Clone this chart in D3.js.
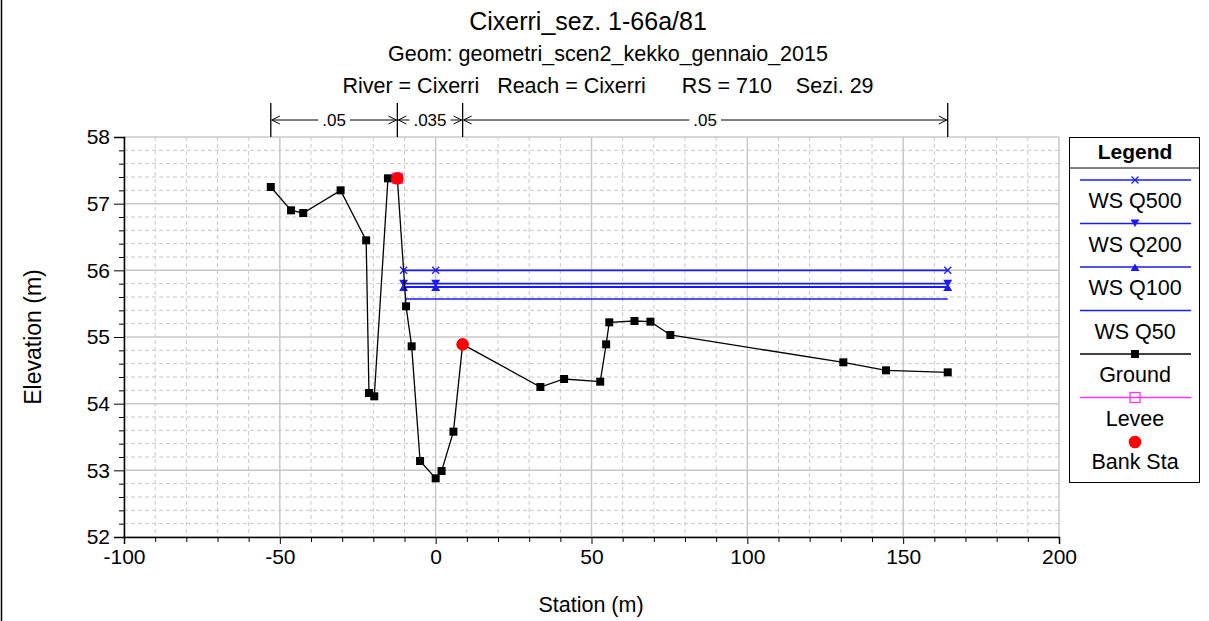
<!DOCTYPE html>
<html><head><meta charset="utf-8">
<script src="https://cdn.jsdelivr.net/npm/d3@7"></script>
<style>body{margin:0;background:#fff;} svg{display:block;font-family:"Liberation Sans",Arial,sans-serif;}</style>
</head><body>
<script>
const titleLines = ["Cixerri_sez. 1-66a/81","Geom: geometri_scen2_kekko_gennaio_2015","River = Cixerri   Reach = Cixerri      RS = 710    Sezi. 29"];
const groundSta = [-52.9,-46.4,-42.5,-30.5,-22.3,-21.4,-19.7,-15.3,-12.3,-9.5,-7.7,-5.0,0.0,1.9,5.7,8.65,33.6,41.2,52.8,54.7,55.7,63.8,68.9,75.3,130.8,144.5,164.3];
const groundElev = [57.25,56.90,56.86,57.20,56.45,54.16,54.11,57.38,57.38,55.46,54.86,53.14,52.88,52.99,53.58,54.89,54.25,54.37,54.33,54.89,55.22,55.24,55.23,55.03,54.62,54.50,54.47];
const bankSta = [-12.3, 8.65];
const bankElev = [57.38, 54.89];
const leveeSta = [-12.3];
const leveeElev = [57.38];
const wsNames = ["WS Q500","WS Q200","WS Q100","WS Q50"];
const wsElev = [56.00, 55.80, 55.75, 55.57];
const wsStart = [-10.3, -10.3, -10.3, -9.5];
const wsEnd = [164.3, 164.3, 164.3, 164.3];
const wsMarkers = ["x","tri-down","tri-up","none"];
const wsMarkerSta = [-10.3, 0, 164.3];
const manningBreaks = [-52.9, -12.3, 8.65, 164.3];
const manningN = [".05", ".035", ".05"];
const xTicks = [-100,-50,0,50,100,150,200];
const yTicks = [52,53,54,55,56,57,58];
const legendNames = ["WS Q500","WS Q200","WS Q100","WS Q50","Ground","Levee","Bank Sta"];

const W=1209,H=621;
const svg=d3.select("body").append("svg").attr("width",W).attr("height",H);
const x=d3.scaleLinear().domain([-100,200]).range([124,1059]);
const y=d3.scaleLinear().domain([52,58]).range([537,137]);
const gridC="#c8c8c8";

// left frame line
svg.append("line").attr("x1",1.5).attr("x2",1.5).attr("y1",0).attr("y2",H).attr("stroke","#000").attr("stroke-width",1.5);

// titles
const tsz=[25,21.5,21.5], ty=[30,61,93], tx=[588,608,608];
titleLines.forEach((t,i)=>svg.append("text").attr("x",tx[i]).attr("y",ty[i]).attr("text-anchor","middle").attr("font-size",tsz[i]).attr("xml:space","preserve").style("white-space","pre").text(t));

// grid
const g=svg.append("g");
d3.range(-90,200,10).forEach(v=>{ if(v%50!==0) g.append("line").attr("x1",x(v)).attr("x2",x(v)).attr("y1",137).attr("y2",537).attr("stroke",gridC).attr("stroke-dasharray","4,3"); });
d3.range(52.2,58,0.2).forEach(v=>{ const r=Math.round(v*10)/10; if(Math.abs(r-Math.round(r))>0.01) g.append("line").attr("x1",124).attr("x2",1059).attr("y1",y(r)).attr("y2",y(r)).attr("stroke",gridC).attr("stroke-dasharray","4,3"); });
xTicks.forEach(v=>g.append("line").attr("x1",x(v)).attr("x2",x(v)).attr("y1",137).attr("y2",537).attr("stroke",gridC).attr("stroke-width",1.5));
yTicks.forEach(v=>g.append("line").attr("x1",124).attr("x2",1059).attr("y1",y(v)).attr("y2",y(v)).attr("stroke",gridC).attr("stroke-width",1.5));

// axes
const xAxis=d3.axisBottom(x).tickValues(xTicks).tickSize(7).tickFormat(d=>String(d));
const gx=svg.append("g").attr("transform","translate(0,537)").call(xAxis);
gx.selectAll("text").attr("font-size",21).attr("font-family","Liberation Sans, Arial, sans-serif").attr("fill","#000").attr("y",12);
gx.selectAll("line").attr("stroke","#000");
gx.select(".domain").attr("stroke","#000").attr("stroke-width",1.5);
const xMinor=d3.range(-90,200,10).filter(v=>v%50!==0);
svg.append("g").attr("transform","translate(0,537)").call(d3.axisBottom(x).tickValues(xMinor).tickSize(5).tickFormat("")).select(".domain").remove();

const yAxis=d3.axisLeft(y).tickValues(yTicks).tickSize(10).tickFormat(d=>String(d));
const gy=svg.append("g").attr("transform","translate(124,0)").call(yAxis);
gy.selectAll("text").attr("font-size",21).attr("font-family","Liberation Sans, Arial, sans-serif").attr("fill","#000").attr("dx","-1");
gy.selectAll("line").attr("stroke","#000");
gy.select(".domain").attr("stroke","#000").attr("stroke-width",1.5);
const yMinor=d3.range(52.2,58,0.2).map(v=>Math.round(v*10)/10).filter(v=>Math.abs(v-Math.round(v))>0.01);
svg.append("g").attr("transform","translate(124,0)").call(d3.axisLeft(y).tickValues(yMinor).tickSize(5).tickFormat("")).select(".domain").remove();

// axis labels
svg.append("text").attr("x",591).attr("y",612).attr("text-anchor","middle").attr("font-size",21.5).text("Station (m)");
svg.append("text").attr("transform","translate(41,337) rotate(-90)").attr("text-anchor","middle").attr("font-size",23).text("Elevation (m)");

// Manning n bars
const my=120;
manningBreaks.forEach(s=>svg.append("line").attr("x1",x(s)).attr("x2",x(s)).attr("y1",103).attr("y2",137).attr("stroke","#000").attr("stroke-width",1.3));
function arrowHead(px,dir){
  svg.append("path").attr("d",`M${px-dir*8},${my-4} L${px},${my} L${px-dir*8},${my+4}`).attr("fill","none").attr("stroke","#000").attr("stroke-width",1);
}
manningN.forEach((n,i)=>{
  const a=x(manningBreaks[i]), b=x(manningBreaks[i+1]), c=(a+b)/2;
  const t=svg.append("text").attr("x",c).attr("y",my+6).attr("text-anchor","middle").attr("font-size",17).text(n);
  const tw=t.node().getComputedTextLength()/2+4;
  svg.append("line").attr("x1",a+1).attr("x2",c-tw).attr("y1",my).attr("y2",my).attr("stroke","#000");
  svg.append("line").attr("x1",c+tw).attr("x2",b-1).attr("y1",my).attr("y2",my).attr("stroke","#000");
  arrowHead(a+1,-1); arrowHead(b-1,1);
});

// symbols
const blue="#1a1aff";
function marker(sel,type,cx,cy,color){
  if(type==="x"){ const s=3.5; sel.append("path").attr("d",`M${cx-s},${cy-s}L${cx+s},${cy+s}M${cx-s},${cy+s}L${cx+s},${cy-s}`).attr("stroke",color).attr("stroke-width",1.3); }
  else if(type==="tri-down"){ sel.append("path").attr("d",`M${cx-4.5},${cy-4}L${cx+4.5},${cy-4}L${cx},${cy+3.5}Z`).attr("fill",color); }
  else if(type==="tri-up"){ sel.append("path").attr("d",`M${cx-4.5},${cy+4}L${cx+4.5},${cy+4}L${cx},${cy-3.5}Z`).attr("fill",color); }
  else if(type==="square"){ sel.append("rect").attr("x",cx-4).attr("y",cy-4).attr("width",8).attr("height",8).attr("fill",color); }
  else if(type==="osquare"){ sel.append("rect").attr("x",cx-5).attr("y",cy-5).attr("width",10).attr("height",10).attr("fill","none").attr("stroke",color).attr("stroke-width",1.3); }
  else if(type==="dot"){ sel.append("circle").attr("cx",cx).attr("cy",cy).attr("r",6.3).attr("fill",color); }
}

// WS lines
const ws=svg.append("g");
wsElev.forEach((e,i)=>{
  ws.append("line").attr("x1",x(wsStart[i])).attr("x2",x(wsEnd[i])).attr("y1",y(e)).attr("y2",y(e)).attr("stroke",blue).attr("stroke-width",i===3?1.3:1.8);
  if(wsMarkers[i]!=="none") wsMarkerSta.forEach(s=>marker(ws,wsMarkers[i],x(s),y(e),blue));
});

// ground
const line=d3.line().x((d,i)=>x(groundSta[i])).y((d,i)=>y(groundElev[i]));
svg.append("path").attr("d",line(groundSta)).attr("fill","none").attr("stroke","#000").attr("stroke-width",1.3);
groundSta.forEach((s,i)=>marker(svg,"square",x(s),y(groundElev[i]),"#000"));
leveeSta.forEach((s,i)=>marker(svg,"osquare",x(s),y(leveeElev[i]),"#ff33ff"));
bankSta.forEach((s,i)=>marker(svg,"dot",x(s),y(bankElev[i]),"#ff0000"));

// legend
const L=svg.append("g");
L.append("rect").attr("x",1069.5).attr("y",137.5).attr("width",130).attr("height",345).attr("fill","#fff").attr("stroke","#000").attr("stroke-width",1);
L.append("line").attr("x1",1069.5).attr("x2",1199.5).attr("y1",168).attr("y2",168).attr("stroke","#000");
L.append("text").attr("x",1135).attr("y",159).attr("text-anchor","middle").attr("font-size",21).attr("font-weight","bold").text("Legend");
const lc=1135, ly0=180, step=43.5;
const lTypes=[["line",blue,"x"],["line",blue,"tri-down"],["line",blue,"tri-up"],["line",blue,"none"],["line","#000","square"],["line","#ff33ff","osquare"],["none","#ff0000","dot"]];
legendNames.forEach((n,i)=>{
  const yy=ly0+i*step; const t=lTypes[i];
  if(t[0]==="line") L.append("line").attr("x1",1080).attr("x2",1191).attr("y1",yy).attr("y2",yy).attr("stroke",t[1]).attr("stroke-width",1.5);
  if(t[2]!=="none") marker(L,t[2],lc,yy+(t[2]==="dot"?1:0),t[1]);
  L.append("text").attr("x",lc).attr("y",yy+28).attr("text-anchor","middle").attr("font-size",21.5).text(n);
});
</script>
</body></html>
